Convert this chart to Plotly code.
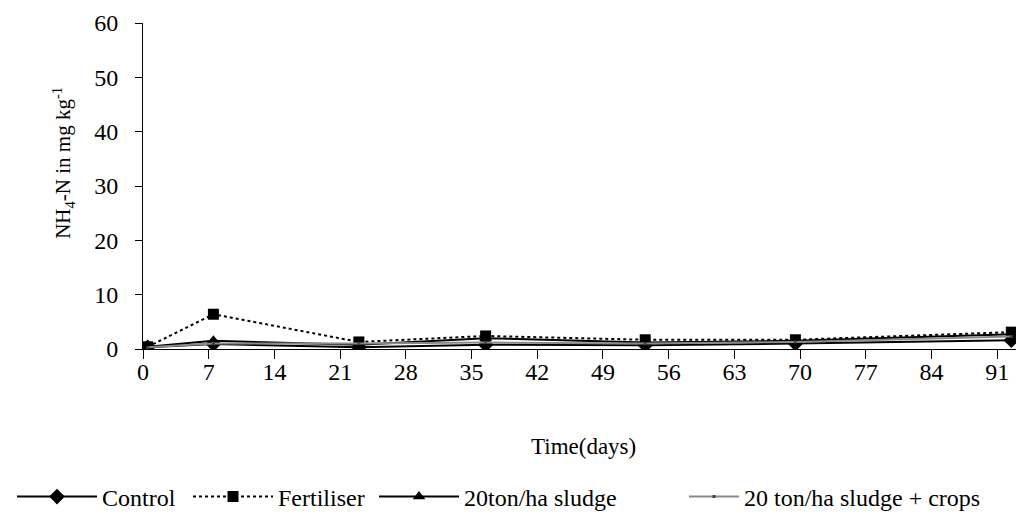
import plotly.graph_objects as go

# Sampling days and NH4-N concentrations (mg/kg)
days = [0.5, 7.5, 23, 36.5, 53.5, 69.5, 92.5]
control = [0.3, 0.9, 0.3, 0.8, 0.7, 1.0, 1.6]
fertiliser = [0.4, 6.4, 1.3, 2.4, 1.7, 1.7, 3.1]
sludge = [0.4, 1.5, 0.8, 2.0, 1.2, 1.5, 2.7]
sludge_crops = [0.3, 1.0, 1.0, 1.2, 1.0, 1.3, 2.3]

x_ticks = list(range(0, 92, 7))
y_ticks = [0, 10, 20, 30, 40, 50, 60]

FONT = "Liberation Serif"
W, H = 1024, 519

fig = go.Figure()
fig.add_trace(go.Scatter(
    x=days, y=control, name="Control", mode="lines+markers", legend="legend",
    line=dict(color="black", width=2),
    marker=dict(symbol="diamond", size=12, color="black"),
))
fig.add_trace(go.Scatter(
    x=days, y=fertiliser, name="Fertiliser", mode="lines+markers", legend="legend2",
    line=dict(color="black", width=2, dash="dot"),
    marker=dict(symbol="square", size=11, color="black"),
))
fig.add_trace(go.Scatter(
    x=days, y=sludge, name="20ton/ha sludge", mode="lines+markers", legend="legend3",
    line=dict(color="black", width=2),
    marker=dict(symbol="triangle-up", size=11, color="black"),
))
fig.add_trace(go.Scatter(
    x=days, y=sludge_crops, name="20 ton/ha sludge + crops", mode="lines+markers",
    legend="legend4",
    line=dict(color="#8a8a8a", width=2),
    marker=dict(symbol="square", size=3, color="#444444"),
))


def legend_at(px, item_w=80):
    # one-entry legend placed along the bottom row, px = left edge in pixels
    return dict(
        orientation="h", xref="container", yref="container",
        x=px / W, y=(H - 497) / H, xanchor="left", yanchor="middle",
        font=dict(family=FONT, size=24, color="black"),
        itemwidth=item_w, bgcolor="rgba(0,0,0,0)",
    )


fig.update_layout(
    width=W, height=H,
    margin=dict(l=143, r=8, t=23, b=170),
    paper_bgcolor="white", plot_bgcolor="white",
    font=dict(family=FONT, size=24, color="black"),
    showlegend=True,
    legend=legend_at(12),
    legend2=legend_at(188),
    legend3=legend_at(374),
    legend4=legend_at(684, item_w=50),
    xaxis=dict(
        range=[0, 93], tickmode="array", tickvals=x_ticks,
        ticktext=[str(t) for t in x_ticks],
        showgrid=False, zeroline=False, showline=True,
        linecolor="black", linewidth=1,
        ticks="outside", ticklen=9, tickcolor="black", tickwidth=1,
        ticklabelstandoff=-8,
        tickfont=dict(family=FONT, size=24, color="black"),
    ),
    yaxis=dict(
        range=[0, 60], tickmode="array", tickvals=y_ticks,
        showgrid=False, zeroline=False, showline=True,
        linecolor="black", linewidth=1,
        ticks="outside", ticklen=7, tickcolor="black", tickwidth=1,
        ticklabelstandoff=12,
        tickfont=dict(family=FONT, size=24, color="black"),
    ),
    annotations=[
        dict(
            text="NH<sub>4</sub>-N in mg kg<sup>-1</sup>",
            xref="paper", yref="paper", x=-0.092, y=0.57,
            xanchor="center", yanchor="middle", textangle=-90,
            showarrow=False, font=dict(family=FONT, size=21, color="black"),
        ),
        dict(
            text="Time(days)",
            xref="paper", yref="paper", x=0.505, y=-0.3,
            xanchor="center", yanchor="middle",
            showarrow=False, font=dict(family=FONT, size=23, color="black"),
        ),
    ],
)

fig.write_html("out.html")
